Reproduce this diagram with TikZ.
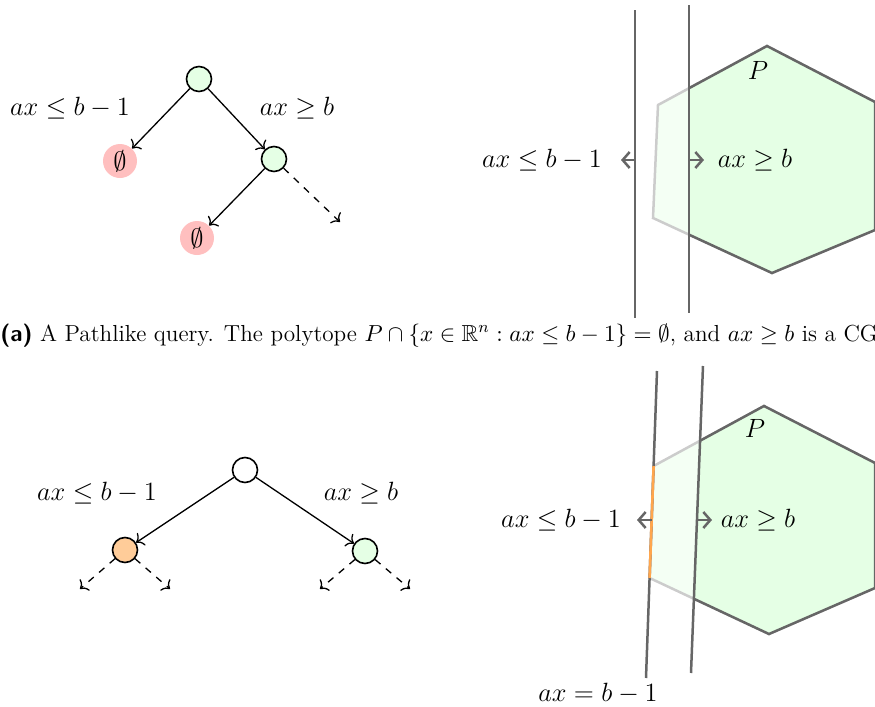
\RequirePackage{fix-cm}
\documentclass[tikz,border=0pt]{standalone}
\usepackage{amssymb}
\usetikzlibrary{arrows.meta}
\definecolor{pgreen}{HTML}{E5FFE5}
\definecolor{pgreenl}{HTML}{F4FFF4}
\definecolor{pinkfill}{HTML}{FFBFBF}
\definecolor{porange}{HTML}{FFCC99}
\definecolor{facecol}{HTML}{FFA64D}
\definecolor{dgray}{HTML}{666666}
\definecolor{lgray}{HTML}{CCCCCC}
\begin{document}
\begin{tikzpicture}[x=0.5pt,y=-0.5pt,
  lbl/.style={font=\fontsize{13.2}{16}\selectfont,inner sep=0pt},
  vnode/.style={circle,draw=black,line width=0.8pt,minimum size=12.5pt,inner sep=0pt},
  empt/.style={circle,fill=pinkfill,minimum size=17pt,inner sep=0pt,font=\fontsize{13.2}{16}\selectfont},
  treeedge/.style={line width=0.65pt,-{To[length=3.4pt,width=7.5pt]}},
  dedge/.style={treeedge,dash pattern=on 3.5pt off 3.5pt},
  hplane/.style={dgray,line width=1.25pt},
  harrow/.style={dgray,line width=1.25pt,-{Straight Barb[length=3.5pt,width=8pt]}},
  hexdark/.style={fill=pgreen,draw=dgray,line width=1.25pt,line join=miter},
  hexlight/.style={fill=pgreenl,draw=lgray,line width=1.25pt,line join=miter},
]
\useasboundingbox (0,0) rectangle (875,707);
\clip (0,0) rectangle (875,707);

% ---------- top tree ----------
\node[vnode,fill=pgreen] (r1) at (199,79) {};
\node[empt] (e1) at (120,161) {$\emptyset$};
\node[vnode,fill=pgreen] (c1) at (274,159) {};
\node[empt] (e2) at (197,238) {$\emptyset$};
\coordinate (d1) at (340,222);
\draw[treeedge] (r1) -- (e1);
\draw[treeedge] (r1) -- (c1);
\draw[treeedge] (c1) -- (e2);
\draw[dedge] (c1) -- (d1);
\node[lbl] (l1) at (70,108) {$ax \leq b-1$};
\node[lbl] (l2) at (297,108) {$ax \geq b$};

% ---------- top polytope ----------
\coordinate (T1) at (767,46);
\coordinate (UR1) at (875,102);
\coordinate (LR1) at (875,230);
\coordinate (B1) at (772,273);
\coordinate (LL1) at (653,218);
\coordinate (UL1) at (658,105);
\filldraw[hexlight] (T1) -- (UR1) -- (LR1) -- (B1) -- (LL1) -- (UL1) -- cycle;
\begin{scope}
  \clip (689,0) rectangle (900,707);
  \filldraw[hexdark] (T1) -- (UR1) -- (LR1) -- (B1) -- (LL1) -- (UL1) -- cycle;
\end{scope}
\coordinate (L1a) at (635,10);
\coordinate (L1b) at (635,318);
\coordinate (L2a) at (689,5);
\coordinate (L2b) at (689,313);
\draw[hplane] (L1a) -- (L1b);
\draw[hplane] (L2a) -- (L2b);
\coordinate (A1s) at (635,160);
\coordinate (A1e) at (621,160);
\coordinate (A2s) at (689,160);
\coordinate (A2e) at (704,160);
\draw[harrow] (A1s) -- (A1e);
\draw[harrow] (A2s) -- (A2e);
\node[lbl] (l3) at (542,160) {$ax \leq b-1$};
\node[lbl] (l4) at (755,160) {$ax \geq b$};
\node[lbl] (P1) at (758,70) {$P$};

% ---------- caption ----------
\node[anchor=base west,inner sep=0pt,font=\fontsize{11.6}{14}\selectfont] (cap) at (0,341)
  {\textsf{\bfseries (a)} A Pathlike query. The polytope $P \cap \{x \in \mathbb{R}^n : ax \leq b-1\} = \emptyset$, and $ax \geq b$ is a CG cut.};

% ---------- bottom tree ----------
\node[vnode,fill=white] (r2) at (245,470) {};
\node[vnode,fill=porange] (c2) at (125,550) {};
\node[vnode,fill=pgreen] (c3) at (365,551) {};
\coordinate (d2) at (80,589);
\coordinate (d3) at (170,589);
\coordinate (d4) at (320,589);
\coordinate (d5) at (410,589);
\draw[treeedge] (r2) -- (c2);
\draw[treeedge] (r2) -- (c3);
\draw[dedge] (c2) -- (d2);
\draw[dedge] (c2) -- (d3);
\draw[dedge] (c3) -- (d4);
\draw[dedge] (c3) -- (d5);
\node[lbl] (l5) at (97,493) {$ax \leq b-1$};
\node[lbl] (l6) at (361,493) {$ax \geq b$};

% ---------- bottom polytope ----------
\coordinate (T2) at (764,406);
\coordinate (UR2) at (875,463);
\coordinate (LR2) at (875,588);
\coordinate (B2) at (769,634);
\coordinate (LL2) at (649.6,578);
\coordinate (UL2) at (653.6,466);
\filldraw[hexlight] (T2) -- (UR2) -- (LR2) -- (B2) -- (LL2) -- (UL2) -- cycle;
\begin{scope}
  \clip (717.3,0) -- (689.7,707) -- (900,707) -- (900,0) -- cycle;
  \filldraw[hexdark] (T2) -- (UR2) -- (LR2) -- (B2) -- (LL2) -- (UL2) -- cycle;
\end{scope}
\coordinate (L3a) at (657,371);
\coordinate (L3b) at (646,678);
\coordinate (L4a) at (703,366);
\coordinate (L4b) at (691,673);
\draw[hplane] (L3a) -- (L3b);
\draw[hplane] (L4a) -- (L4b);
\draw[facecol,line width=1.3pt] (UL2) -- (LL2);
\coordinate (A3s) at (651.7,520);
\coordinate (A3e) at (637,520);
\coordinate (A4s) at (697,520);
\coordinate (A4e) at (712,520);
\draw[harrow] (A3s) -- (A3e);
\draw[harrow] (A4s) -- (A4e);
\node[lbl] (l7) at (561,520) {$ax \leq b-1$};
\node[lbl] (l8) at (758,520) {$ax \geq b$};
\node[lbl] (P2) at (755,428) {$P$};
\node[lbl] (l9) at (598,693) {$ax = b-1$};
\end{tikzpicture}
\end{document}
